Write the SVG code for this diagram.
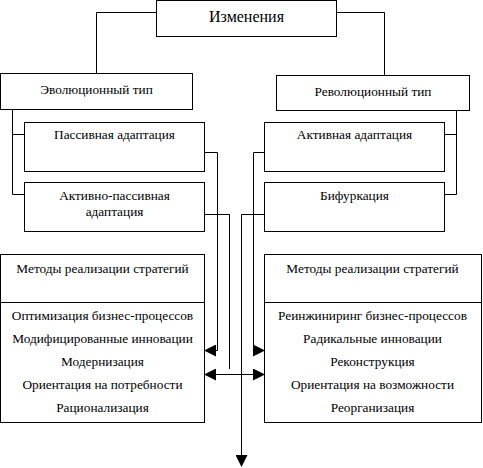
<svg xmlns="http://www.w3.org/2000/svg" width="483" height="468" viewBox="0 0 483 468">
<style>
rect{fill:#fff;stroke:#000;stroke-width:1}
text{font-family:'Liberation Serif','Times New Roman',serif;font-size:13.3px;fill:#000;text-anchor:middle}
.t{font-size:16px}
.c line,.c polyline{stroke:#000;stroke-width:1;fill:none}
</style>
<defs>
<marker id="a" markerWidth="12" markerHeight="12" refX="11" refY="6" orient="auto" markerUnits="userSpaceOnUse"><path d="M0,0 L12,6 L0,12 Z" fill="#000"/></marker>
<marker id="s" markerWidth="12" markerHeight="12" refX="1" refY="6" orient="auto" markerUnits="userSpaceOnUse"><path d="M12,0 L0,6 L12,12 Z" fill="#000"/></marker>
</defs>
<g class="c" id="connectors">
<polyline points="156.5,12.5 96.5,12.5 96.5,73.5"/>
<polyline points="336.5,12.5 384.5,12.5 384.5,75.5"/>
<polyline points="12.5,109.5 12.5,194.5 24.5,194.5"/>
<line x1="12.5" y1="134.5" x2="24.5" y2="134.5"/>
<polyline points="456.5,110.5 456.5,194.5 444.5,194.5"/>
<line x1="456.5" y1="134.5" x2="444.5" y2="134.5"/>
<polyline points="204.5,152.5 217.5,152.5 217.5,350.5 205,350.5" marker-end="url(#a)"/>
<polyline points="204.5,214.5 229.5,214.5 229.5,369"/>
<line x1="205" y1="374.5" x2="264" y2="374.5" marker-start="url(#s)" marker-end="url(#a)"/>
<polyline points="264.5,152.5 253.5,152.5 253.5,350.5 264,350.5" marker-end="url(#a)"/>
<polyline points="264.5,214.5 241.5,214.5 241.5,466" marker-end="url(#a)"/>
</g>
<g id="izm"><rect x="156.5" y="0.5" width="180" height="36"/><text class="t" x="246.5" y="22">Изменения</text></g>
<g id="evo"><rect x="0.5" y="73.5" width="192" height="36"/><text x="96.5" y="94">Эволюционный тип</text></g>
<g id="rev"><rect x="276.5" y="75.5" width="193" height="35"/><text x="373" y="96">Революционный тип</text></g>
<g id="pass"><rect x="24.5" y="122.5" width="180" height="49"/><text x="114.5" y="139">Пассивная адаптация</text></g>
<g id="actpass"><rect x="24.5" y="182.5" width="180" height="49"/><text x="114.5" y="200">Активно-пассивная</text><text x="114.5" y="216">адаптация</text></g>
<g id="act"><rect x="264.5" y="122.5" width="180" height="49"/><text x="354.5" y="139">Активная адаптация</text></g>
<g id="bif"><rect x="264.5" y="182.5" width="180" height="49"/><text x="354.5" y="200">Бифуркация</text></g>
<g id="methL"><rect x="0.5" y="254.5" width="204" height="168"/><line x1="0.5" y1="302.5" x2="204.5" y2="302.5" stroke="#000"/>
<text x="102.5" y="273">Методы реализации стратегий</text>
<text x="102.5" y="320">Оптимизация бизнес-процессов</text>
<text x="102.5" y="343">Модифицированные инновации</text>
<text x="102.5" y="366">Модернизация</text>
<text x="102.5" y="389">Ориентация на потребности</text>
<text x="102.5" y="412">Рационализация</text></g>
<g id="methR"><rect x="264.5" y="254.5" width="217" height="168"/><line x1="264.5" y1="302.5" x2="481.5" y2="302.5" stroke="#000"/>
<text x="372.5" y="273">Методы реализации стратегий</text>
<text x="372.5" y="320">Реинжиниринг бизнес-процессов</text>
<text x="372.5" y="343">Радикальные инновации</text>
<text x="372.5" y="366">Реконструкция</text>
<text x="372.5" y="389">Ориентация на возможности</text>
<text x="372.5" y="412">Реорганизация</text></g>
</svg>
